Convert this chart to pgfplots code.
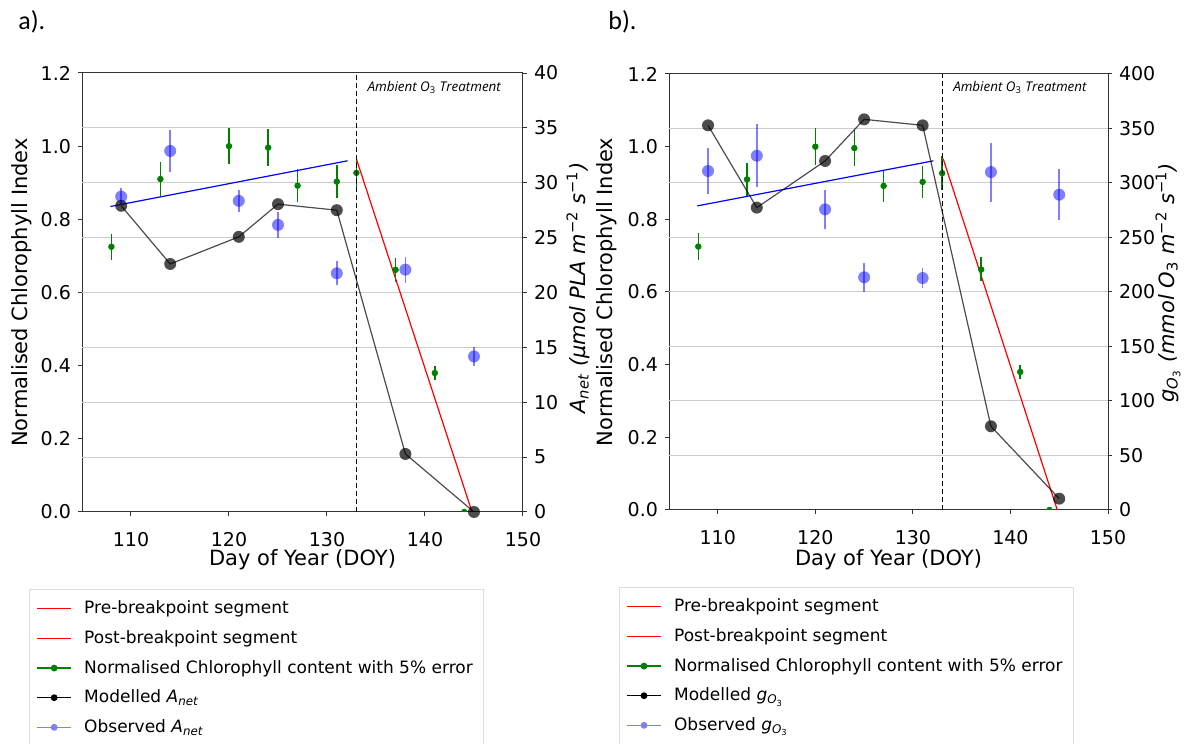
\documentclass[border=0pt]{standalone}
\usepackage{pgfplots}
\pgfplotsset{compat=1.18}
\usepackage{fontspec}
\setmainfont{DejaVu Sans}
\newfontfamily\opensans{Open Sans}
\newfontfamily\carlito{Carlito}
\definecolor{mgreen}{HTML}{008000}
\definecolor{gridc}{HTML}{CCCCCC}
\definecolor{spine}{HTML}{333333}
\definecolor{legc}{HTML}{DDDDDD}

\pgfplotsset{
  base/.style={
    scale only axis,
    xmin=105, xmax=150,
    axis line style={spine, line width=0.5pt},
    tick style={spine, line width=0.5pt},
    tick align=outside,
    major tick length=2pt,
    tick label style={font=\fontsize{9.5}{11}\selectfont},
    /pgf/number format/assume math mode=true,
    label style={font=\fontsize{10.5}{12}\selectfont},
  },
  leftax/.style={
    base,
    clip marker paths=true,
    ymin=0, ymax=1.2,
    ytick={0,0.2,0.4,0.6,0.8,1.0,1.2},
    yticklabel={\pgfmathprintnumber[fixed,fixed zerofill,precision=1]{\tick}},
    xtick={110,120,130,140,150},
    xticklabel style={inner sep=1pt, yshift=-7pt},
    xtick pos=bottom, ytick pos=left,
    extra y ticks={0.15,0.3,0.45,0.6,0.75,0.9,1.05},
    extra y tick labels={},
    extra y tick style={grid=major, major grid style={gridc, line width=0.5pt}, major tick length=0pt},
    xlabel={Day of Year (DOY)},
    ylabel={Normalised Chlorophyll Index},
  },
  rightax/.style={
    base,
    axis x line=none, axis y line*=right,
    ytick pos=right,
  },
  legB/.style={
    legend cell align=left,
    legend style={draw=legc, fill=white,
      font=\fontsize{8.5}{10}\selectfont, inner xsep=3.5pt, inner ysep=3.75pt,
      row sep=2.85pt, column sep=4.2pt},
  },
}

\begin{document}
\begin{tikzpicture}
\useasboundingbox (0pt,0pt) rectangle (592pt,372pt);

\node[font=\carlito\fontsize{13}{15}\selectfont, anchor=base west, inner sep=0pt] at (9pt,357pt) {a).};
\node[font=\carlito\fontsize{13}{15}\selectfont, anchor=base west, inner sep=0pt] at (304pt,357pt) {b).};

%% ---------------- Panel a ----------------
\begin{axis}[leftax, at={(41pt,116pt)}, anchor=south west, width=220.5pt, height=219.5pt,
  ylabel style={at={(axis description cs:-0.136,0.5)}, anchor=center},
  xlabel style={at={(axis description cs:0.5,-0.109)}, anchor=center, inner sep=1pt}]
\addplot[red, line width=0.6pt] coordinates {(133,0.965) (144.8,0)};
\addplot[only marks, mgreen, mark=*, mark size=1.4pt, mark options={draw=mgreen, fill=mgreen},
  error bars/.cd, y dir=both, y explicit, error mark=none, error bar style={mgreen, line width=0.75pt}]
  table[x=x, y=y, y error=e] {
x y e
108 0.725 0.036
113 0.910 0.046
120 1.000 0.050
124 0.996 0.050
127 0.892 0.045
131 0.903 0.045
133 0.927 0.046
137 0.662 0.033
141 0.380 0.019
144 0.000 0.000
};
\addplot[blue, line width=0.6pt] coordinates {(107.9,0.835) (132.1,0.960)};
\addplot[black, line width=0.6pt, dash pattern=on 2.5pt off 1.5pt] coordinates {(133,0) (133,1.2)};
\node[anchor=west, inner sep=0pt, font=\opensans\itshape\fontsize{6.7}{8}\selectfont] at (axis cs:134.1,1.16) {Ambient O\textsubscript{\upshape 3} Treatment};
\end{axis}

\begin{axis}[rightax, legB, at={(41pt,116pt)}, anchor=south west, width=220.5pt, height=219.5pt,
  ymin=0, ymax=40, ytick={0,5,...,40},
  legend style={at={(-0.12,-0.1754)}, anchor=north west}]
\addlegendimage{red, line width=0.6pt}
\addlegendentry{Pre-breakpoint segment}
\addlegendimage{red, line width=0.6pt}
\addlegendentry{Post-breakpoint segment}
\addlegendimage{mgreen, line width=0.6pt, mark=*, mark size=1.4pt, mark options={draw=mgreen, fill=mgreen}}
\addlegendentry{Normalised Chlorophyll content with 5\% error}
\addlegendimage{black, line width=0.6pt, mark=*, mark size=1.4pt, mark options={draw=black, fill=black}}
\addlegendentry{Modelled \textit{A}\textsubscript{\textit{net}}}
\addlegendimage{blue!50, line width=0.6pt, mark=*, mark size=1.4pt, mark options={draw=blue!50, fill=blue!50}}
\addlegendentry{Observed \textit{A}\textsubscript{\textit{net}}}
\addplot[forget plot, black, opacity=0.7, line width=0.6pt, mark=*, mark size=3pt, mark options={fill=black, draw opacity=0}] coordinates {
(109,27.9) (114,22.6) (121,25.07) (125,28.05) (131,27.5) (138,5.29) (145,0)};
\addplot[forget plot, only marks, mark=*, mark size=3pt, mark options={draw=blue, fill=blue, fill opacity=0.5, draw opacity=0},
  error bars/.cd, y dir=both, y explicit, error mark=none, error bar style={blue, opacity=0.5, line width=0.75pt}]
  table[x=x, y=y, y error=e] {
x y e
109 28.74 0.8
114 32.90 1.9
121 28.35 1.0
125 26.16 1.2
131 21.75 1.1
138 22.08 1.17
145 14.17 0.9
};
\end{axis}
\node[rotate=90, anchor=center, font=\fontsize{10.5}{12}\selectfont] at (289pt,228pt)
  {\textit{A}\textsubscript{\textit{net}} \textit{(μmol PLA m}\textsuperscript{−2} \textit{s}\textsuperscript{−1}\textit{)}};

%% ---------------- Panel b ----------------
\begin{axis}[leftax, at={(334.5pt,117pt)}, anchor=south west, width=219.5pt, height=218pt,
  ylabel style={at={(axis description cs:-0.141,0.5)}, anchor=center},
  xlabel style={at={(axis description cs:0.5,-0.114)}, anchor=center, inner sep=1pt}]
\addplot[red, line width=0.6pt] coordinates {(133.1,0.967) (144.8,0)};
\addplot[only marks, mgreen, mark=*, mark size=1.4pt, mark options={draw=mgreen, fill=mgreen},
  error bars/.cd, y dir=both, y explicit, error mark=none, error bar style={mgreen, line width=0.75pt}]
  table[x=x, y=y, y error=e] {
x y e
108 0.725 0.036
113 0.910 0.046
120 1.000 0.050
124 0.996 0.050
127 0.892 0.045
131 0.903 0.045
133 0.927 0.046
137 0.662 0.033
141 0.380 0.019
144 0.000 0.000
};
\addplot[blue, line width=0.6pt] coordinates {(107.9,0.837) (132.1,0.961)};
\addplot[black, line width=0.6pt, dash pattern=on 2.5pt off 1.5pt] coordinates {(133,0) (133,1.2)};
\node[anchor=west, inner sep=0pt, font=\opensans\itshape\fontsize{6.7}{8}\selectfont] at (axis cs:134.1,1.162) {Ambient O\textsubscript{\upshape 3} Treatment};
\end{axis}

\begin{axis}[rightax, legB, at={(334.5pt,117pt)}, anchor=south west, width=219.5pt, height=218pt,
  ymin=0, ymax=400, ytick={0,50,...,400},
  legend style={at={(-0.114,-0.1766)}, anchor=north west}]
\addlegendimage{red, line width=0.6pt}
\addlegendentry{Pre-breakpoint segment}
\addlegendimage{red, line width=0.6pt}
\addlegendentry{Post-breakpoint segment}
\addlegendimage{mgreen, line width=0.6pt, mark=*, mark size=1.4pt, mark options={draw=mgreen, fill=mgreen}}
\addlegendentry{Normalised Chlorophyll content with 5\% error}
\addlegendimage{black, line width=0.6pt, mark=*, mark size=1.4pt, mark options={draw=black, fill=black}}
\addlegendentry{Modelled \textit{g}\textsubscript{\textit{O}\textsubscript{3}}}
\addlegendimage{blue!50, line width=0.6pt, mark=*, mark size=1.4pt, mark options={draw=blue!50, fill=blue!50}}
\addlegendentry{Observed \textit{g}\textsubscript{\textit{O}\textsubscript{3}}}
\addplot[forget plot, black, opacity=0.7, line width=0.6pt, mark=*, mark size=3pt, mark options={fill=black, draw opacity=0}] coordinates {
(109,352.9) (114,277.4) (121,320.2) (125,358.4) (131,352.9) (138,76.8) (145,10.4)};
\addplot[forget plot, only marks, mark=*, mark size=3pt, mark options={draw=blue, fill=blue, fill opacity=0.5, draw opacity=0},
  error bars/.cd, y dir=both, y explicit, error mark=none, error bar style={blue, opacity=0.5, line width=0.75pt}]
  table[x=x, y=y, y error=e] {
x y e
109 311.0 21
114 325.0 29
121 275.8 18
125 213.5 13.5
131 212.8 9.5
138 310.0 27
145 289.3 23.5
};
\end{axis}
\node[rotate=90, anchor=center, font=\fontsize{10.5}{12}\selectfont] at (584pt,230.5pt)
  {\textit{g}\textsubscript{\textit{O}\textsubscript{3}} \textit{(mmol O}\textsubscript{3} \textit{m}\textsuperscript{−2} \textit{s}\textsuperscript{−1}\textit{)}};
\end{tikzpicture}
\end{document}
